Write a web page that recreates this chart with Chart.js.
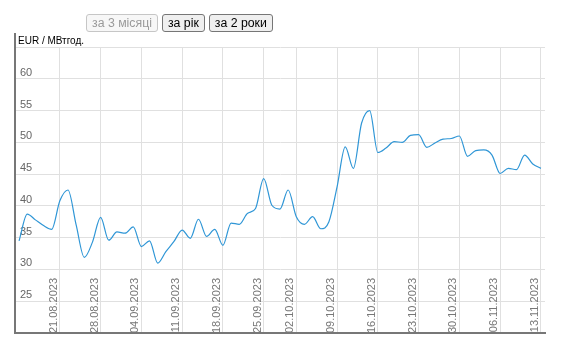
<!DOCTYPE html>
<html><head><meta charset="utf-8">
<script src="https://cdn.jsdelivr.net/npm/chart.js@4"></script>
<style>
html,body{margin:0;padding:0;background:#fff;overflow:hidden;}
#wrap{position:relative;width:584px;height:355px;}
#wrap canvas{position:absolute;left:0;top:0;}
.btns{position:absolute;left:86px;top:14px;display:flex;gap:4px;}
.btns button{font-family:'Liberation Sans',Arial,sans-serif;font-size:12.3px;height:18px;padding:0 5px;border:1px solid #767676;border-radius:3px;background:#efefef;color:#000;line-height:16px;margin:0;}
.btns button:disabled{border-color:#c6c6c6;background:#f7f7f7;color:#9a9a9a;}
#unit{position:absolute;left:18px;top:35px;font:10px 'Liberation Sans',Arial,sans-serif;color:#000;}
</style></head>
<body>
<div id="wrap">
<canvas id="c" width="584" height="355"></canvas>
<div class="btns"><button disabled>за 3 місяці</button><button>за рік</button><button>за 2 роки</button></div>
<div id="unit">EUR / МВтгод.</div>
</div>
<script>
const categories = [
"14.08.2023","15.08.2023","16.08.2023","17.08.2023","18.08.2023",
"21.08.2023","22.08.2023","23.08.2023","24.08.2023","25.08.2023",
"28.08.2023","29.08.2023","30.08.2023","31.08.2023","01.09.2023",
"04.09.2023","05.09.2023","06.09.2023","07.09.2023","08.09.2023",
"11.09.2023","12.09.2023","13.09.2023","14.09.2023","15.09.2023",
"18.09.2023","19.09.2023","20.09.2023","21.09.2023","22.09.2023",
"25.09.2023","26.09.2023","27.09.2023","28.09.2023",
"02.10.2023","03.10.2023","04.10.2023","05.10.2023","06.10.2023",
"09.10.2023","10.10.2023","11.10.2023","12.10.2023","13.10.2023",
"16.10.2023","17.10.2023","18.10.2023","19.10.2023","20.10.2023",
"23.10.2023","24.10.2023","25.10.2023","26.10.2023","27.10.2023",
"30.10.2023","31.10.2023","01.11.2023","02.11.2023","03.11.2023",
"06.11.2023","07.11.2023","08.11.2023","09.11.2023","10.11.2023",
"13.11.2023"];
const prices = [
34.5,38.7,37.8,36.9,36.3,
40.8,42.5,37.0,31.9,34.3,
38.2,34.6,35.9,35.7,36.7,
33.6,34.5,31.0,32.8,34.4,
36.2,34.9,37.9,35.2,36.3,
33.8,37.3,37.1,38.8,39.6,
44.3,40.1,39.5,42.5,
38.3,37.1,38.3,36.4,37.5,
43.0,49.3,45.9,53.0,55.0,
48.4,49.1,50.1,50.0,51.1,
51.2,49.2,49.9,50.5,50.6,
51.0,47.8,48.7,48.8,48.0,
45.1,45.9,45.7,48.0,46.6,
45.9];
const weekLabels = ["21.08.2023","28.08.2023","04.09.2023","11.09.2023","18.09.2023","25.09.2023","02.10.2023","09.10.2023","16.10.2023","23.10.2023","30.10.2023","06.11.2023","13.11.2023"];
const yTickValues = [20,25,30,35,40,45,50,55,60,65];
const yLabelMin = 25, yLabelMax = 60;

const FONT = "'Liberation Sans', Arial, sans-serif";
const axisExtend = {
  id: 'axisExtend',
  afterDraw(chart) {
    const {ctx, chartArea} = chart;
    ctx.save();
    ctx.strokeStyle = '#777';
    ctx.lineWidth = 2;
    ctx.beginPath();
    ctx.moveTo(chartArea.left, chartArea.top - 14);
    ctx.lineTo(chartArea.left, chartArea.top);
    ctx.stroke();
    ctx.restore();
  }
};
new Chart(document.getElementById('c'), {
  type: 'line',
  data: {
    labels: categories,
    datasets: [{
      data: prices,
      borderColor: '#2f96d6',
      borderWidth: 1.2,
      pointRadius: 0,
      cubicInterpolationMode: 'monotone',
      fill: false
    }]
  },
  options: {
    responsive: false,
    animation: false,
    events: [],
    layout: { padding: { left: 5, top: 47, right: 39, bottom: 22 } },
    plugins: { legend: { display: false }, tooltip: { enabled: false } },
    scales: {
      x: {
        type: 'category',
        offset: true,
        grid: { color: '#e0e0e0', lineWidth: 1, offset: false, drawTicks: false },
        border: { color: '#777', width: 2 },
        afterBuildTicks: (s) => { s.ticks = s.ticks.filter(t => weekLabels.includes(categories[t.value])); },
        ticks: {
          autoSkip: false, minRotation: 90, maxRotation: 90,
          padding: -55, labelOffset: -6,
          color: '#777', font: { family: FONT, size: 11 }
        }
      },
      y: {
        min: 20, max: 65,
        grid: { color: '#e0e0e0', lineWidth: 1, drawTicks: false },
        border: { color: '#777', width: 2 },
        afterBuildTicks: (s) => { s.ticks = yTickValues.map(v => ({ value: v })); },
        ticks: {
          mirror: true, padding: 5, labelOffset: -6,
          color: '#666', font: { family: FONT, size: 11 },
          callback: (v) => (v >= yLabelMin && v <= yLabelMax) ? String(v) : ''
        }
      }
    }
  },
  plugins: [axisExtend]
});
</script>
</body></html>
